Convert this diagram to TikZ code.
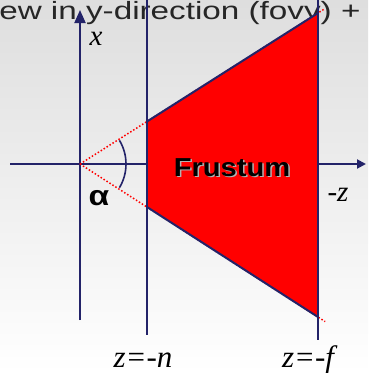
\documentclass[tikz,border=0pt]{standalone}
\usepackage{fontspec}
\setmainfont{Liberation Serif}
\newfontfamily\arialfont{Liberation Sans}
\usetikzlibrary{arrows.meta, positioning, calc}
\definecolor{navy}{RGB}{35,35,105}
\definecolor{frustred}{RGB}{255,0,0}

\begin{document}
\begin{tikzpicture}[x=1pt, y=-1pt,
    axisline/.style={draw=navy, line width=2pt},
    raydot/.style={draw=frustred, line width=1.5pt, dotted},
    mathlbl/.style={inner sep=0pt, anchor=base, font=\itshape\fontsize{29}{29}\selectfont},
    boldlbl/.style={inner sep=0pt, anchor=base, xscale=1.12, font=\arialfont\bfseries\fontsize{26}{26}\selectfont}]
    \useasboundingbox (0,0) rectangle (368,373);
    \clip (0,0) rectangle (368,373);
    \shade[top color=black!13, bottom color=white] (0,0) rectangle (368,373);

    % cut-off title
    \node[inner sep=0pt, anchor=base west, xscale=1.33, text=black!85, font=\arialfont\fontsize{25}{25}\selectfont] (title) at (-1,19.5) {ew in y-direction (fovy) +};

    % points of the view volume
    \coordinate (eye) at (80,164);
    \coordinate (ntop) at (147,121.5);
    \coordinate (nbot) at (147,207);
    \coordinate (ftop) at (318,13);
    \coordinate (fbot) at (318,317);
    \coordinate (nplanetop) at (147,0);
    \coordinate (nplanebot) at (147,335);
    \coordinate (fplanetop) at (318,0);
    \coordinate (fplanebot) at (318,340);
    \coordinate (zstart) at (10,164);
    \coordinate (zend) at (366,164);
    \coordinate (xbot) at (80,320);
    \coordinate (xtop) at (80,10);

    % axes
    \draw[axisline, -{Triangle[length=9pt, width=9pt]}] (zstart) -- (zend);
    \draw[axisline, -{Triangle[length=13pt, width=11pt]}] (xbot) -- (xtop);

    % frustum
    \fill[frustred] (ntop) -- (ftop) -- (fbot) -- (nbot) -- cycle;
    \draw[raydot] (eye) -- ($(eye)!1.03!(ftop)$);
    \draw[raydot] (eye) -- ($(eye)!1.03!(fbot)$);
    \draw[axisline] (ntop) -- (ftop);
    \draw[axisline] (nbot) -- (fbot);
    \draw[axisline] (nplanetop) -- (nplanebot);
    \draw[axisline] (fplanetop) -- (fplanebot);

    % field of view
    \draw[navy, line width=1.6pt] ([shift={(-31:46pt)}]eye) arc[start angle=-31, end angle=31, radius=46pt];
    \node[inner sep=0pt, anchor=base, xscale=1.2, font=\arialfont\bfseries\fontsize{28}{28}\selectfont] (alpha) at (99,205) {α};

    % labels
    \node[boldlbl, text=black!30] (frustshadow) at (233.5,177.5) {Frustum};
    \node[boldlbl] (frustlbl) at (232,176) {Frustum};
    \node[mathlbl] (xlbl) at (96,45) {x};
    \node[mathlbl] (zlbl) at (338,201) {-z};
    \node[mathlbl, font=\itshape\fontsize{31}{31}\selectfont] (nearlbl) at (143,367) {z=-n};
    \node[mathlbl, font=\itshape\fontsize{31}{31}\selectfont] (farlbl) at (308,367) {z=-f};
\end{tikzpicture}
\end{document}
